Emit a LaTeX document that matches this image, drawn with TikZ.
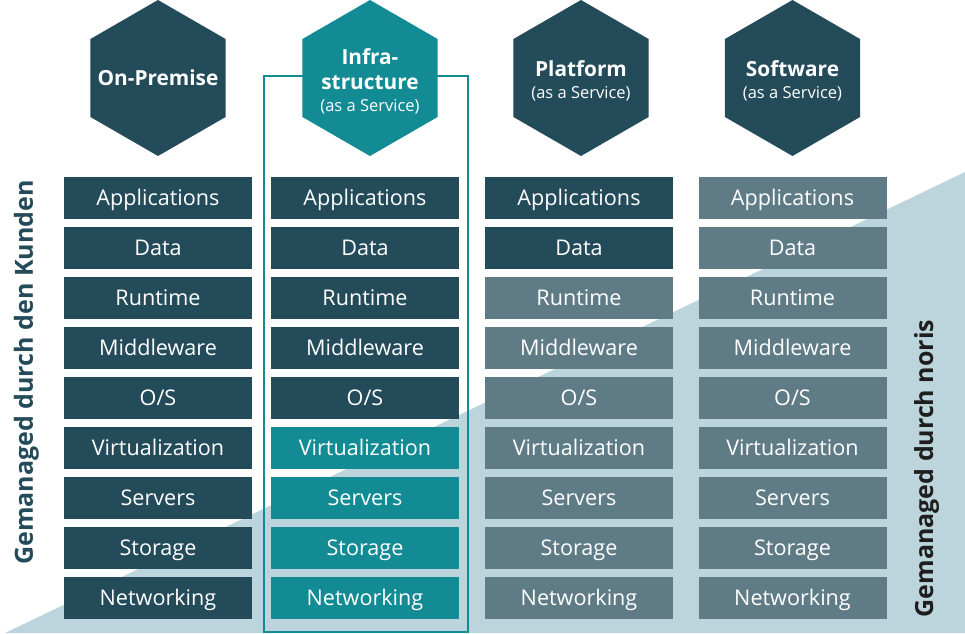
\documentclass[tikz,border=0pt]{standalone}
\usepackage{fontspec}
\setmainfont{Open Sans}
\usetikzlibrary{shapes.geometric}

\definecolor{kunde}{HTML}{234B5A}
\definecolor{cloud}{HTML}{128B94}
\definecolor{noris}{HTML}{5F7C86}
\definecolor{sky}{HTML}{BCD5DC}
\definecolor{ink}{HTML}{1E1E1E}

\newcommand{\asservice}{{\fontsize{16.5}{20}\selectfont\mdseries (as a Service)}}

\begin{document}
\begin{tikzpicture} [x=1pt, y=-1pt, node distance=50pt, hexagon/.style={regular polygon, regular polygon sides=6, shape border rotate=30, minimum size=156pt, inner sep=0pt}, title/.style={text=white, align=center, inner sep=0pt, font=\fontsize{20.8}{25}\selectfont\bfseries}, layer/.style={rectangle, minimum width=188pt, minimum height=42pt, inner sep=0pt, text=white, text height=15.5pt, text depth=0pt, font=\fontsize{21.6}{25}\selectfont}, own/.style={layer, fill=kunde}, iaas/.style={layer, fill=cloud}, managed/.style={layer, fill=noris}, side/.style={rotate=90, font=\fontsize{25}{30}\selectfont\bfseries}]
{
	\useasboundingbox (0,0) rectangle (965,633);
	
	% background
	\fill [sky] (5,633) -- (965,172) -- (965,633) -- cycle;
	\draw [cloud, line width=2pt] (264,76.3) rectangle (468,631.7);
	
	% hexagons
	\node [hexagon, fill=kunde] (onprem) at (158,78) {};
	\node [hexagon, fill=cloud] (iaas) at (370,78) {};
	\node [hexagon, fill=kunde] (paas) at (581,78) {};
	\node [hexagon, fill=kunde] (saas) at (792.5,78) {};
	\node [title] (onprem_title) at (onprem) {On-Premise};
	\node [title, yshift=-3pt] (iaas_title) at (iaas) {Infra-\\structure\\[-3pt]\asservice};
	\node [title, yshift=-3pt] (paas_title) at (paas) {Platform\\[-3pt]\asservice};
	\node [title, yshift=-3pt] (saas_title) at (saas) {Software\\[-3pt]\asservice};
	
	% On-Premise
	\node [own] (onprem_1) at (158,198) {Applications};
	\node [own, below of=onprem_1] (onprem_2) {Data};
	\node [own, below of=onprem_2] (onprem_3) {Runtime};
	\node [own, below of=onprem_3] (onprem_4) {Middleware};
	\node [own, below of=onprem_4] (onprem_5) {O/S};
	\node [own, below of=onprem_5] (onprem_6) {Virtualization};
	\node [own, below of=onprem_6] (onprem_7) {Servers};
	\node [own, below of=onprem_7] (onprem_8) {Storage};
	\node [own, below of=onprem_8] (onprem_9) {Networking};
	
	% Infrastructure
	\node [own] (iaas_1) at (365,198) {Applications};
	\node [own, below of=iaas_1] (iaas_2) {Data};
	\node [own, below of=iaas_2] (iaas_3) {Runtime};
	\node [own, below of=iaas_3] (iaas_4) {Middleware};
	\node [own, below of=iaas_4] (iaas_5) {O/S};
	\node [iaas, below of=iaas_5] (iaas_6) {Virtualization};
	\node [iaas, below of=iaas_6] (iaas_7) {Servers};
	\node [iaas, below of=iaas_7] (iaas_8) {Storage};
	\node [iaas, below of=iaas_8] (iaas_9) {Networking};
	
	% Platform
	\node [own] (paas_1) at (579,198) {Applications};
	\node [own, below of=paas_1] (paas_2) {Data};
	\node [managed, below of=paas_2] (paas_3) {Runtime};
	\node [managed, below of=paas_3] (paas_4) {Middleware};
	\node [managed, below of=paas_4] (paas_5) {O/S};
	\node [managed, below of=paas_5] (paas_6) {Virtualization};
	\node [managed, below of=paas_6] (paas_7) {Servers};
	\node [managed, below of=paas_7] (paas_8) {Storage};
	\node [managed, below of=paas_8] (paas_9) {Networking};
	
	% Software
	\node [managed] (saas_1) at (792.5,198) {Applications};
	\node [managed, below of=saas_1] (saas_2) {Data};
	\node [managed, below of=saas_2] (saas_3) {Runtime};
	\node [managed, below of=saas_3] (saas_4) {Middleware};
	\node [managed, below of=saas_4] (saas_5) {O/S};
	\node [managed, below of=saas_5] (saas_6) {Virtualization};
	\node [managed, below of=saas_6] (saas_7) {Servers};
	\node [managed, below of=saas_7] (saas_8) {Storage};
	\node [managed, below of=saas_8] (saas_9) {Networking};
	
	% side labels
	\node [side, text=kunde] (kunden) at (26.5,372.5) {Gemanaged durch den Kunden};
	\node [side, text=ink] (noris) at (926.5,468.5) {Gemanaged durch noris};
}
\end{tikzpicture}
\end{document}
